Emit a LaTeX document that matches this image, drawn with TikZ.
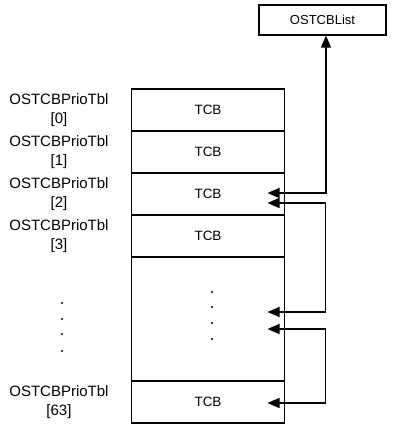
\documentclass[tikz,border=0pt]{standalone}
\usepackage{fontspec}
\setmainfont{Liberation Sans}
\usetikzlibrary{positioning, calc, arrows.meta}

\begin{document}
\begin{tikzpicture}[x=1pt, y=-1pt, node distance=14pt, >={Triangle[length=12pt,width=10pt]},
        row/.style={rectangle, draw, line width=1.2pt, outer sep=0pt, minimum width=153pt, minimum height=42pt, font=\fontsize{13.5}{16}\selectfont},
        prio/.style={text width=110pt, align=center, font=\fontsize{15}{19}\selectfont},
        head/.style={rectangle, draw, line width=1.2pt, minimum width=127pt, minimum height=30pt, font=\fontsize{13}{15}\selectfont},
        link/.style={draw, line width=1.6pt, <->}]
        \useasboundingbox (0,0) rectangle (392,426);

        \node [head] (list) at (322.5,20) {OSTCBList};

        \node [row] (tcb0) at (208,110) {TCB};
        \node [row, below=0pt of tcb0] (tcb1) {TCB};
        \node [row, below=0pt of tcb1] (tcb2) {TCB};
        \node [row, below=0pt of tcb2] (tcb3) {TCB};
        \node [row, below=0pt of tcb3, minimum height=124pt] (tcbdots) {};
        \node [row, below=0pt of tcbdots] (tcb63) {TCB};

        \node [prio, left=of tcb0] (prio0) {OSTCBPrioTbl\\{[0]}};
        \node [prio, left=of tcb1] (prio1) {OSTCBPrioTbl\\{[1]}};
        \node [prio, left=of tcb2] (prio2) {OSTCBPrioTbl\\{[2]}};
        \node [prio, left=of tcb3] (prio3) {OSTCBPrioTbl\\{[3]}};
        \node [prio, left=of tcb63] (prio63) {OSTCBPrioTbl\\{[63]}};

        % dots for the rows in between
        \foreach \y in {303,319,334,351} \fill (62,\y) circle (1.1pt);
        \foreach \y in {292,307,323,339} \fill (212,\y) circle (1.1pt);

        \coordinate (p2a) at ($(tcb2.east)+(-17,-1)$);
        \coordinate (p2b) at ($(tcb2.east)+(-17,9)$);
        \coordinate (pda) at ($(tcbdots.east)+(-17,-7)$);
        \coordinate (pdb) at ($(tcbdots.east)+(-17,10)$);
        \coordinate (p63) at ($(tcb63.east)+(-17,1)$);

        \path [link] (p2a) -| ([xshift=3.5pt]list.south);
        \path [link] (p2b) -- ++(58,0) |- (pda);
        \path [link] (pdb) -- ++(58,0) |- (p63);

    \end{tikzpicture}
\end{document}
